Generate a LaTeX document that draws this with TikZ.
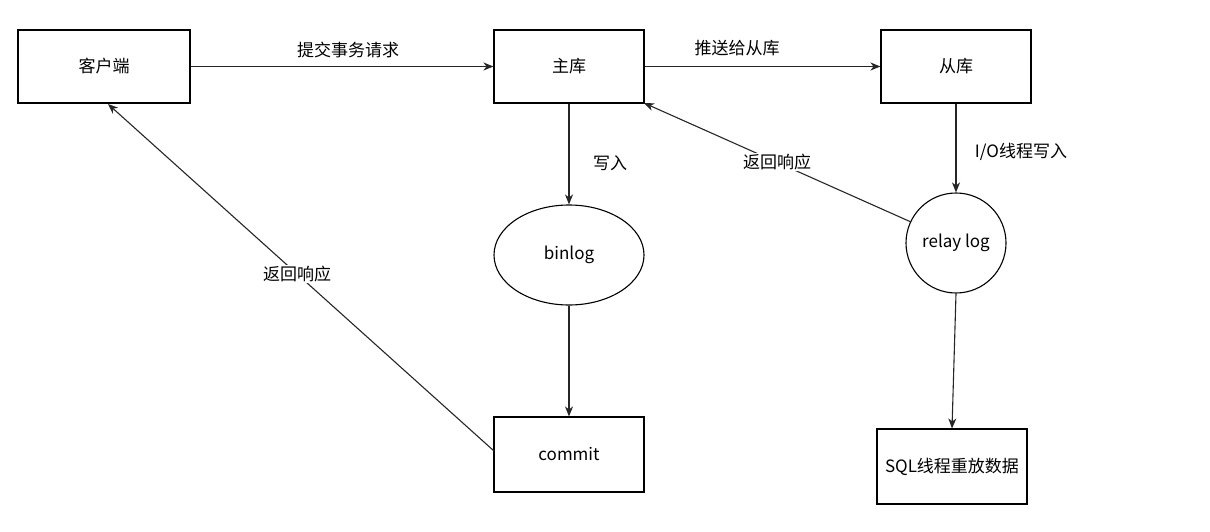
\documentclass[tikz,border=0pt]{standalone}
\usepackage{fontspec}
\setmainfont{Noto Sans CJK SC}
\usetikzlibrary{shapes.geometric,arrows.meta}
\tikzset{
  box/.style={draw, line width=1.1pt, minimum width=150pt, minimum height=73pt, inner sep=0pt, font=\fontsize{17}{19}\selectfont},
  oval/.style={draw, line width=1.1pt, ellipse, minimum width=150pt, minimum height=100pt, inner sep=0pt, font=\fontsize{17}{19}\selectfont},
  circ/.style={draw, line width=1.1pt, circle, minimum size=100pt, inner sep=0pt, font=\fontsize{17}{19}\selectfont},
  arr/.style={draw=black!85, line width=1.1pt, -{Stealth[length=10pt,width=8pt,inset=3pt]}},
  lbl/.style={font=\fontsize{17}{19}\selectfont, inner sep=1pt},
  wlbl/.style={lbl, fill=white}
}
\begin{document}
\begin{tikzpicture}[x=1pt,y=-1pt]
\useasboundingbox (0,0) rectangle (1210,532);
\node[box, minimum width=172pt] (client) at (104,66.5) {客户端};
\node[box] (master) at (569,66.5) {主库};
\node[box] (slave) at (956,66.5) {从库};
\node[oval] (binlog) at (569,255) {binlog};
\node[circ] (relay) at (956,243) {relay log};
\node[box, minimum height=75pt] (commit) at (569,454.5) {commit};
\node[box, minimum height=75pt] (sql) at (952,466.5) {SQL线程重放数据};

\draw[arr] (client.east) -- (master.west);
\node[lbl] (l1) at (348,50) {提交事务请求};
\draw[arr] (master.east) -- (slave.west);
\node[lbl] (l2) at (737,48) {推送给从库};
\draw[arr] (master.south) -- (binlog.north);
\node[lbl] (l3) at (610,163) {写入};
\draw[arr] (slave.south) -- (relay.north);
\node[lbl] (l4) at (1021,152) {I/O线程写入};
\coordinate (mse) at (644,103);
\draw[arr] (relay.155) -- (mse) node[wlbl, pos=0.5] {返回响应};
\draw[arr] (binlog.south) -- (commit.north);
\coordinate (cl) at (494,451);
\coordinate (cb) at (108,104);
\draw[arr] (cl) -- (cb) node[wlbl, pos=0.51] {返回响应};
\draw[arr] (relay.south) -- (sql.north);
\end{tikzpicture}
\end{document}
